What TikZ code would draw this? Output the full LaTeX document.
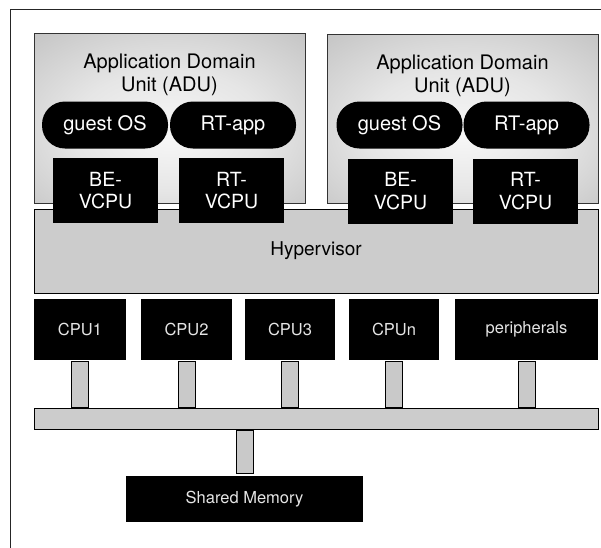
\documentclass[tikz,border=0pt]{standalone}
\usepackage{fontspec}
\setmainfont{TeX Gyre Heros}
\pgfdeclareradialshading{adushade}{\pgfpoint{0bp}{-5bp}}{color(0bp)=(white!97!black); color(18bp)=(white!90!black); color(42bp)=(white!74!black); color(72bp)=(white!58!black)}
\begin{document}
\begin{tikzpicture}[x=1pt,y=-1pt,
  frameline/.style={draw=black!85, line width=1pt},
  adu/.style={draw=black!80, line width=1pt, shading=adushade, rectangle, inner sep=0pt, minimum width=271pt, minimum height=170pt},
  adutitle/.style={align=center, font=\fontsize{20}{23}\selectfont, text=black},
  pill/.style={fill=black, rounded corners=23pt, text=white, minimum width=126pt, minimum height=47pt, inner sep=0pt, font=\fontsize{20}{23}\selectfont},
  vcpu/.style={fill=black, text=white, minimum width=105pt, minimum height=65pt, inner sep=0pt, align=center, font=\fontsize{19.5}{22.5}\selectfont},
  graybox/.style={draw=black, line width=1pt, fill=gray!40, inner sep=0pt},
  hwbox/.style={fill=black, text=white!90!black, minimum height=61pt, inner sep=0pt, font=\fontsize{16.5}{19}\selectfont},
  conn/.style={draw=black, line width=1pt, fill=gray!42}
]
\useasboundingbox (0,0) rectangle (601,547);
% outer frame (extends beyond the visible area)
\coordinate (fbl) at (10,560);
\coordinate (ftl) at (10,9);
\coordinate (ftr) at (615,9);
\draw[frameline] (fbl) -- (ftl) -- (ftr);

% hypervisor
\node[graybox, minimum width=564pt, minimum height=84pt, font=\fontsize{19}{22}\selectfont] (hyp) at (316,251) {Hypervisor};

% ADU 1
\node[adu] (adu1) at (169.5,118) {};
\node[adutitle] (t1) at (169.5,75) {Application Domain\\Unit (ADU)};
\node[pill] (os1) at (105,125) {guest OS};
\node[pill] (rt1) at (233,125) {RT-app};
\node[vcpu] (be1) at (105.5,190.5) {BE-\\VCPU};
\node[vcpu] (rv1) at (231.5,190.5) {RT-\\VCPU};

% ADU 2
\node[adu, minimum height=169pt] (adu2) at (462.5,118.5) {};
\node[adutitle] (t2) at (462.5,75.5) {Application Domain\\Unit (ADU)};
\node[pill] (os2) at (399.5,125) {guest OS};
\node[pill] (rt2) at (526.5,125) {RT-app};
\node[vcpu] (be2) at (400.5,191) {BE-\\VCPU};
\node[vcpu] (rv2) at (525.5,191) {RT-\\VCPU};

% hardware
\node[hwbox, minimum width=92pt] (cpu1) at (80,329.5) {CPU1};
\node[hwbox, minimum width=91pt] (cpu2) at (186.5,329.5) {CPU2};
\node[hwbox, minimum width=90pt] (cpu3) at (290,329.5) {CPU3};
\node[hwbox, minimum width=90pt] (cpun) at (394,329.5) {CPUn};
\node[hwbox, minimum width=143pt] (per) at (526.5,329.5) {peripherals};

\node[graybox, minimum width=564pt, minimum height=21pt] (bus) at (316,418.5) {};
\node[hwbox, minimum width=237pt, minimum height=46pt] (mem) at (244.5,499) {Shared Memory};

% connectors
\foreach \n in {cpu1,cpu2,cpu3,cpun,per}{
  \draw[conn] ([xshift=-8.5pt,yshift=-1pt]\n.south) rectangle ([xshift=8.5pt,yshift=0.5pt]\n.south |- bus.north);
}
\draw[conn] ([xshift=-8.5pt,yshift=-1pt]bus.south -| mem.north) rectangle ([xshift=8.5pt,yshift=2pt]mem.north);
\end{tikzpicture}
\end{document}
